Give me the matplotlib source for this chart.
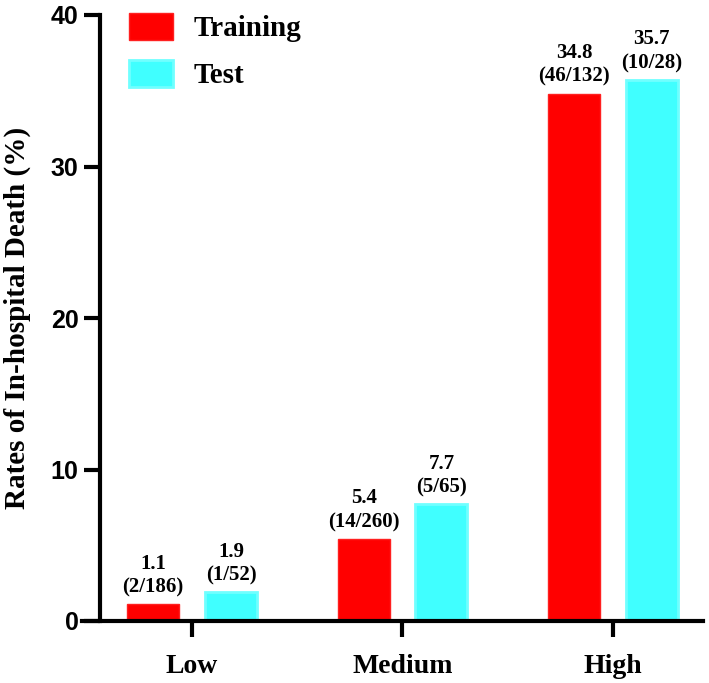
import numpy as np
import matplotlib
matplotlib.use("Agg")
import matplotlib.pyplot as plt
from matplotlib.patches import Patch

# data
groups = ["Low", "Medium", "High"]
training = [1.1, 5.4, 34.8]
test = [1.9, 7.7, 35.7]
training_counts = ["(2/186)", "(14/260)", "(46/132)"]
test_counts = ["(1/52)", "(5/65)", "(10/28)"]
yticks = [0, 10, 20, 30, 40]

red = "#FF0000"
cyan = "#40FFFF"

fig = plt.figure(figsize=(7.09, 6.83), dpi=100)
ax = fig.add_axes([82/709, 1-621/683, 621/709, 606/683])

# spine moves first, it resets the tick objects
ax.spines["top"].set_visible(False)
ax.spines["right"].set_visible(False)
ax.spines["left"].set_position(("axes", 18/621))
ax.spines["left"].set_linewidth(3)
ax.spines["bottom"].set_linewidth(3)

x = np.arange(len(groups))
w = 0.247
off = 0.185
ax.bar(x - off, training, w, color=red, edgecolor="#FF2020", linewidth=1)
ax.bar(x + off, test, w, color=cyan, edgecolor="#70FFFF", linewidth=2)

serif = "Liberation Serif"
sans = "Liberation Sans"

for i in range(len(groups)):
    ax.annotate("%.1f\n%s" % (training[i], training_counts[i]),
                (x[i] - off, training[i]), xytext=(0, 5), textcoords="offset points",
                ha="center", va="bottom", fontsize=15, fontweight="bold",
                family=serif, linespacing=1.25)
    ax.annotate("%.1f\n%s" % (test[i], test_counts[i]),
                (x[i] + off, test[i]), xytext=(0, 5), textcoords="offset points",
                ha="center", va="bottom", fontsize=15, fontweight="bold",
                family=serif, linespacing=1.25)

ax.set_xlim(-0.523, 2.428)
ax.set_ylim(0, 40)
ax.set_yticks(yticks, labels=[str(v) for v in yticks], family=sans,
              fontweight="bold", fontsize=18)
ax.set_xticks(x, labels=groups, family=serif, fontweight="bold", fontsize=20)
ax.tick_params(axis="y", length=11.5, width=3, pad=4)
ax.tick_params(axis="x", length=11.5, width=3, pad=12)

ax.set_ylabel("Rates of In-hospital Death (%)", family=serif, fontweight="bold",
              fontsize=21)
ax.yaxis.set_label_coords(-0.082, 0.5)

handles = [Patch(facecolor=red, edgecolor="#FF2020"),
           Patch(facecolor=cyan, edgecolor="#70FFFF", linewidth=2)]
ax.legend(handles, ["Training", "Test"], loc="upper left",
          bbox_to_anchor=(129/709, 1-13/683), bbox_transform=fig.transFigure,
          frameon=False, prop={"family": serif, "weight": "bold", "size": 21},
          handlelength=1.5, handleheight=1.05, handletextpad=0.7,
          labelspacing=0.6, borderpad=0, borderaxespad=0)

fig.savefig("out.png", dpi=100)
